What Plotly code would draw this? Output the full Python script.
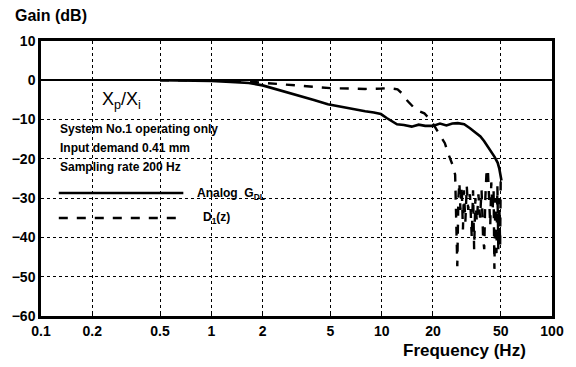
import plotly.graph_objects as go

# ---- data ----
analog_f = [0.5, 0.7, 1.0, 1.3, 1.66, 2.0, 2.58, 3.2, 4.0, 4.83, 5.5, 6.2, 7.0, 8.0, 9.0, 9.9,
            10.7, 11.5, 12.3, 13.5, 15, 16.5, 18, 20, 22, 24, 26, 28, 30.5, 33, 36, 38, 40,
            42, 44, 46, 48, 49, 50.5]
analog_g = [0, -0.05, -0.2, -0.4, -0.7, -1.3, -2.6, -3.8, -5.0, -6.1, -6.6, -7.0, -7.4, -7.9,
            -8.2, -8.6, -9.6, -10.5, -11.2, -11.4, -11.8, -11.3, -11.6, -11.6, -11.0, -11.5,
            -11.0, -10.9, -11.2, -12.2, -13.5, -14.3, -15.5, -16.8, -18.2, -19.5, -21.0,
            -22.4, -25.5]

digital_f = [0.5, 1.0, 1.5, 2.0, 2.5, 3.2, 4.0, 5.0, 6.5, 8.0, 10, 11, 12.4, 13.3, 14.2, 15.5,
             16.5, 17.8, 19.6, 21, 22.5, 23.5, 24.5, 26, 27, 27.4, 27.8, 28.2, 28.6, 29.0,
             29.5, 30.0, 30.4, 31.0, 31.6, 32.2, 33.0, 33.8, 34.4, 34.9, 35.5, 36.2, 37.0,
             37.8, 38.6, 39.4, 40.0, 40.6, 41.2, 42.0, 42.6, 43.4, 44.0, 44.8, 45.4, 45.9,
             46.5, 47.2, 47.8, 48.4, 49.0, 49.6, 50.0]
digital_g = [0, 0, -0.2, -0.6, -1.0, -1.4, -1.7, -2.0, -2.1, -2.2, -2.1, -2.0, -2.3, -3.5,
             -5.3, -7.0, -7.8, -8.4, -10.4, -12.5, -14.5, -16.0, -18.5, -21.4, -24.0, -35,
             -47.3, -30, -26, -33, -27, -38, -28, -36, -27, -33, -29, -40, -28, -43, -30, -36,
             -29, -35, -28, -40, -43, -30, -24, -22.5, -28, -37, -26, -33, -28, -48, -30, -44,
             -27, -43, -30, -42, -25]

x_tickvals = [0.1, 0.2, 0.5, 1, 2, 5, 10, 20, 50, 100]
x_ticktext = ["0.1", "0.2", "0.5", "1", "2", "5", "10", "20", "50", "100"]
y_tickvals = [10, 0, -10, -20, -30, -40, -50, -60]

FONT = "Liberation Sans, Arial, sans-serif"

fig = go.Figure()
fig.add_trace(go.Scatter(x=analog_f, y=analog_g, mode="lines",
                         line=dict(color="black", width=2.6), showlegend=False))
fig.add_trace(go.Scatter(x=digital_f, y=digital_g, mode="lines",
                         line=dict(color="black", width=2.4, dash="dash"), showlegend=False))

L, R, T, B = 40, 19, 41, 51
W, H = 576, 367
pw, ph = W - L - R, H - T - B

def px(x):
    return (x - L) / pw

def py(y):
    return (H - B - y) / ph

fig.update_layout(
    width=W, height=H,
    margin=dict(l=L, r=R, t=T, b=B),
    paper_bgcolor="white", plot_bgcolor="white",
    font=dict(family=FONT, color="black", size=13, weight="bold"),
    xaxis=dict(type="log", range=[-1, 2], tickvals=x_tickvals, ticktext=x_ticktext,
               showgrid=True, gridcolor="black", griddash="dot", gridwidth=1,
               showline=True, linecolor="black", linewidth=2.5, mirror=True,
               ticks="inside", ticklen=4, tickcolor="black",
               tickfont=dict(size=14, family=FONT, weight="bold")),
    yaxis=dict(range=[-60, 10], tickvals=y_tickvals,
               showgrid=True, gridcolor="black", griddash="dot", gridwidth=1,
               zeroline=True, zerolinecolor="black", zerolinewidth=2.2,
               showline=True, linecolor="black", linewidth=2.5, mirror=True,
               ticks="", tickfont=dict(size=14, family=FONT, weight="bold")),
)

ann = [
    dict(text="Gain (dB)", x=px(12), y=py(15), xanchor="left", yanchor="middle",
         font=dict(size=16)),
    dict(text="Frequency (Hz)", x=px(533), y=py(350), xanchor="right", yanchor="middle",
         font=dict(size=17)),
    dict(text="X<sub>p</sub>/X<sub>i</sub>", x=px(100), y=py(100), xanchor="left",
         yanchor="middle", font=dict(size=18, weight="normal")),
    dict(text="System No.1 operating only", x=px(57), y=py(129), xanchor="left",
         yanchor="middle", font=dict(size=12)),
    dict(text="Input demand 0.41 mm", x=px(57), y=py(148), xanchor="left",
         yanchor="middle", font=dict(size=12)),
    dict(text="Sampling rate 200 Hz", x=px(57), y=py(167), xanchor="left",
         yanchor="middle", font=dict(size=12)),
    dict(text="Analog  G<sub>DL</sub>", x=px(196), y=py(194), xanchor="left",
         yanchor="middle", font=dict(size=12)),
    dict(text="D<sub>1</sub>(z)", x=px(202), y=py(218), xanchor="left",
         yanchor="middle", font=dict(size=12)),
]
for a in ann:
    a.update(xref="paper", yref="paper", showarrow=False)
fig.update_layout(annotations=ann)

fig.add_shape(type="line", xref="paper", yref="paper", x0=px(58), x1=px(184),
              y0=py(193), y1=py(193), line=dict(color="black", width=2.4))
fig.add_shape(type="line", xref="paper", yref="paper", x0=px(58), x1=px(184),
              y0=py(218), y1=py(218), line=dict(color="black", width=2.4, dash="dash"))

fig.write_html("out.html")
